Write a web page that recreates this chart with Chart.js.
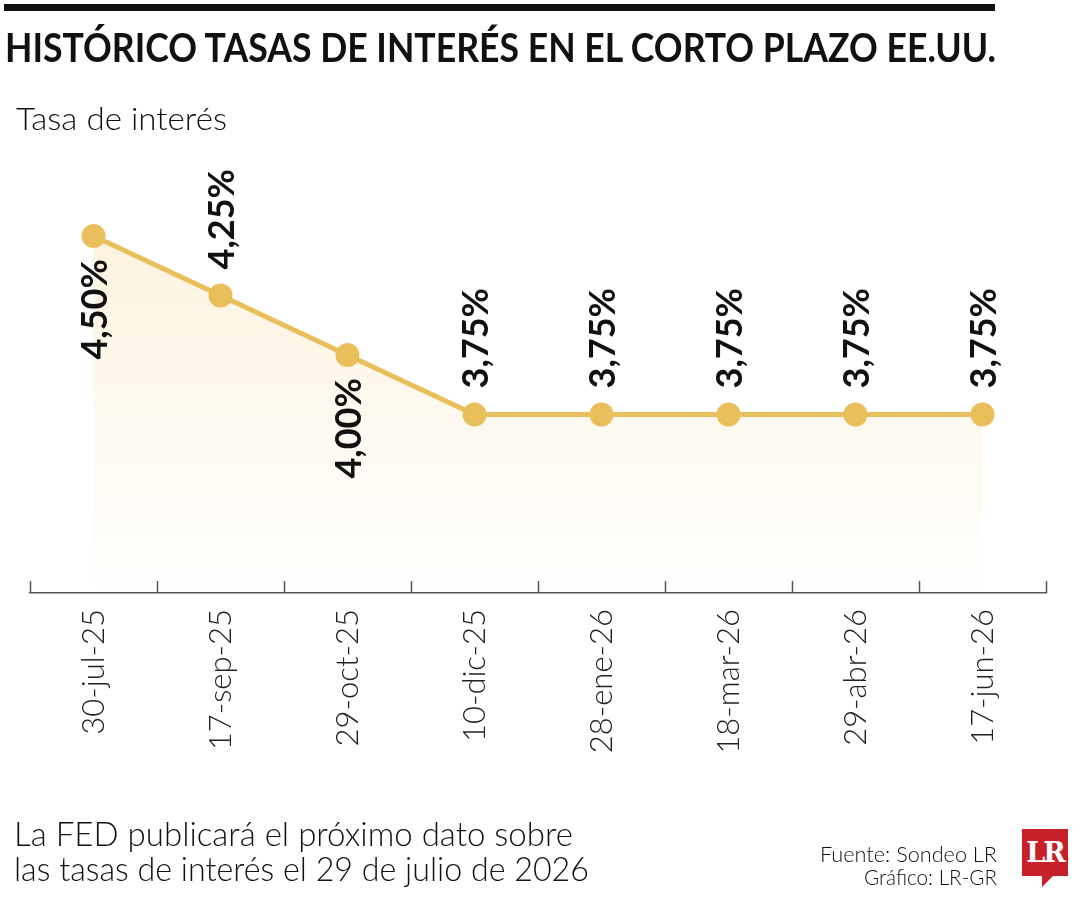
<!DOCTYPE html>
<html><head><meta charset="utf-8">
<script src="https://cdn.jsdelivr.net/npm/chart.js@4.4.1/dist/chart.umd.min.js"></script>
<style>
html,body{margin:0;padding:0;background:#fff;}
body{width:1080px;height:900px;position:relative;overflow:hidden;font-family:Lato,"Open Sans",sans-serif;}
.t{position:absolute;white-space:nowrap;line-height:1;transform-origin:0 0;color:#111;}
#bar{position:absolute;left:4px;top:4px;width:991px;height:7px;background:#111;}
#cwrap{position:absolute;left:0;top:0;width:1080px;height:900px;}
#logo{position:absolute;left:1022px;top:829px;width:46px;height:47px;background:#C8202A;color:#fff;font-family:"DejaVu Serif","Liberation Serif",serif;font-weight:bold;font-size:27px;line-height:47px;text-align:center;letter-spacing:-2px;}
#logo:after{content:"";position:absolute;left:20px;top:47px;border-left:0 solid transparent;border-right:11px solid transparent;border-top:11px solid #C8202A;}
</style></head><body>
<div id="bar"></div>
<div id="cwrap"><canvas id="c" width="1080" height="900"></canvas></div>
<div class="t" id="title" data-x="5" data-base="62" data-fs="40" data-w="991" style="font-weight:bold;">HISTÓRICO TASAS DE INTERÉS EN EL CORTO PLAZO EE.UU.</div>
<div class="t" id="sub" data-x="16" data-base="130" data-fs="32" data-w="211" style="font-weight:300;">Tasa de interés</div>
<div class="t" data-x="14" data-base="846" data-fs="34" data-w="559" style="font-weight:300;">La FED publicará el próximo dato sobre</div>
<div class="t" data-x="14" data-base="881" data-fs="34" data-w="575" style="font-weight:300;">las tasas de interés el 29 de julio de 2026</div>
<div class="t" data-right="997" data-base="862" data-fs="21" data-w="177" style="font-weight:300;">Fuente: Sondeo LR</div>
<div class="t" data-right="997" data-base="885" data-fs="21" data-w="133" style="font-weight:300;">Gráfico: LR-GR</div>
<div id="logo">LR</div>
<script>
// ---- data ----
const categories = ['30-jul-25','17-sep-25','29-oct-25','10-dic-25','28-ene-26','18-mar-26','29-abr-26','17-jun-26'];
const rates = [4.50, 4.25, 4.00, 3.75, 3.75, 3.75, 3.75, 3.75];
const labelsBelow = [0, 2];

function fmt(v){ return v.toFixed(2).replace('.', ',') + '%'; }

function placeTexts(){
  document.querySelectorAll('.t').forEach(el => {
    const fs = +el.dataset.fs;
    el.style.fontSize = fs + 'px';
    el.style.transform = 'none';
    const w = el.getBoundingClientRect().width;
    const s = (+el.dataset.w) / w;
    el.style.top = (+el.dataset.base - 0.887 * fs) + 'px';
    if (el.dataset.right) {
      el.style.left = (+el.dataset.right - w * s) + 'px';
    } else {
      el.style.left = el.dataset.x + 'px';
    }
    el.style.transform = 'scaleX(' + s + ')';
  });
}

const valueLabelPlugin = {
  id: 'valueLabels',
  afterDatasetsDraw(chart) {
    const ctx = chart.ctx;
    const meta = chart.getDatasetMeta(0);
    ctx.save();
    ctx.fillStyle = '#111';
    ctx.font = 'bold 36px Lato, "Open Sans", sans-serif';
    ctx.textBaseline = 'middle';
    meta.data.forEach((pt, i) => {
      const txt = fmt(chart.data.datasets[0].data[i]);
      ctx.save();
      ctx.translate(pt.x, pt.y);
      ctx.rotate(-Math.PI / 2);
      if (labelsBelow.includes(i)) {
        ctx.textAlign = 'right';
        ctx.fillText(txt, -23, 2);
      } else {
        ctx.textAlign = 'left';
        ctx.fillText(txt, 26, 2);
      }
      ctx.restore();
    });
    ctx.restore();
  }
};

const tickPlugin = {
  id: 'catTicks',
  afterDraw(chart) {
    const x = chart.scales.x;
    const ctx = chart.ctx;
    const bottom = chart.chartArea.bottom;
    const step = x.getPixelForValue(1) - x.getPixelForValue(0);
    ctx.save();
    ctx.strokeStyle = '#555';
    ctx.lineWidth = 1.5;
    for (let i = 0; i <= categories.length; i++) {
      const px = Math.round(x.getPixelForValue(i) - step / 2) + 0.5;
      ctx.beginPath();
      ctx.moveTo(px, bottom);
      ctx.lineTo(px, bottom - 12);
      ctx.stroke();
    }
    ctx.restore();
  }
};

function build(){
  placeTexts();
  new Chart(document.getElementById('c'), {
    type: 'line',
    data: {
      labels: categories,
      datasets: [{
        data: rates,
        borderColor: '#E8BF5A',
        borderWidth: 5,
        pointRadius: 12,
        pointHoverRadius: 12,
        pointBackgroundColor: '#E8BF5A',
        pointBorderWidth: 0,
        tension: 0,
        fill: 'start',
        backgroundColor: (c) => {
          const ca = c.chart.chartArea;
          if (!ca) return 'rgba(0,0,0,0)';
          const g = c.chart.ctx.createLinearGradient(0, ca.top, 0, ca.bottom);
          g.addColorStop(0.2, 'rgba(249,226,180,0.45)');
          g.addColorStop(0.97, 'rgba(249,226,180,0.03)');
          g.addColorStop(1, 'rgba(255,255,255,0)');
          return g;
        }
      }]
    },
    options: {
      responsive: false,
      animation: false,
      layout: { padding: { left: 30, right: 34, top: 117, bottom: 0 } },
      plugins: { legend: { display: false }, tooltip: { enabled: false }, title: { display: false } },
      scales: {
        y: { display: false, min: 3, max: 5 },
        x: {
          offset: true,
          grid: { display: false, drawTicks: false },
          border: { display: true, color: '#555', width: 1.5 },
          afterFit: (s) => { s.height = 307; },
          ticks: {
            autoSkip: false, minRotation: 90, maxRotation: 90, padding: 16,
            color: '#222',
            font: { family: 'Lato, "Open Sans", sans-serif', size: 31, weight: '300' }
          }
        }
      }
    },
    plugins: [valueLabelPlugin, tickPlugin]
  });
}
if (document.fonts && document.fonts.ready) {
  Promise.all([
    document.fonts.load('300 31px Lato'), document.fonts.load('bold 36px Lato'), document.fonts.load('bold 40px Lato')
  ]).catch(()=>{}).then(() => document.fonts.ready).then(build);
} else { build(); }
</script>
</body></html>
